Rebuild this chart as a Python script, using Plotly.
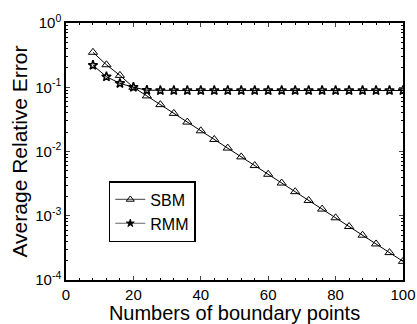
import plotly.graph_objects as go

x_points = [8, 12, 16, 20, 24, 28, 32, 36, 40, 44, 48, 52, 56, 60, 64, 68, 72, 76, 80, 84, 88, 92, 96, 100]
sbm = [0.35, 0.224, 0.153, 0.100, 0.0733, 0.0536, 0.0392, 0.0287, 0.0210, 0.0154, 0.0113, 0.00824,
       0.00604, 0.00442, 0.00323, 0.00237, 0.00173, 0.00127, 0.000929, 0.000680, 0.000498,
       0.000364, 0.000267, 0.000195]
rmm = [0.22, 0.146, 0.115, 0.100, 0.090, 0.089, 0.089, 0.089, 0.089, 0.089, 0.089, 0.089,
       0.089, 0.089, 0.089, 0.089, 0.089, 0.089, 0.089, 0.089, 0.089, 0.089, 0.089, 0.089]

x_ticks = [0, 20, 40, 60, 80, 100]
y_tickvals = [1e-4, 1e-3, 1e-2, 1e-1, 1]
y_ticktext = ["10<sup>-4</sup>", "10<sup>-3</sup>", "10<sup>-2</sup>", "10<sup>-1</sup>", "10<sup>0</sup>"]
y_minor = [m * 10 ** e for e in (-4, -3, -2, -1) for m in range(2, 10)]

fig = go.Figure()
fig.add_trace(go.Scatter(
    x=x_points, y=sbm, name="SBM", mode="lines+markers", showlegend=False,
    line=dict(color="black", width=1),
    marker=dict(symbol="triangle-up-open", size=8, color="black", line=dict(width=1)),
))
fig.add_trace(go.Scatter(
    x=x_points, y=rmm, name="RMM", mode="lines+markers", showlegend=False,
    line=dict(color="black", width=1),
    marker=dict(symbol="star-open", size=7, color="black", line=dict(width=1.5)),
))
# legend entries (grey lines, small markers as in the reference)
fig.add_trace(go.Scatter(
    x=[None], y=[None], name="SBM", mode="lines+markers",
    line=dict(color="#666666", width=1.2),
    marker=dict(symbol="triangle-up-open", size=7, color="black", line=dict(width=1)),
))
fig.add_trace(go.Scatter(
    x=[None], y=[None], name="RMM", mode="lines+markers",
    line=dict(color="#666666", width=1.2),
    marker=dict(symbol="star", size=6, color="black", line=dict(width=0.8, color="black")),
))

font_family = "Liberation Sans, Arial, Helvetica, sans-serif"
fig.update_layout(
    width=417, height=324,
    margin=dict(l=66, r=12, t=15, b=44),
    paper_bgcolor="white", plot_bgcolor="white",
    font=dict(family=font_family, color="black"),
    showlegend=True,
    legend=dict(
        x=0.127, y=0.385, xanchor="left", yanchor="top",
        bordercolor="black", borderwidth=1.5, bgcolor="white",
        font=dict(size=16, family=font_family),
        tracegroupgap=2,
    ),
    xaxis=dict(
        range=[0, 100], tickvals=x_ticks, ticks="inside", ticklen=4,
        showline=True, linecolor="black", linewidth=1.5, mirror="ticks",
        showgrid=False, zeroline=False, automargin=False,
        ticklabeloverflow="allow",
        tickfont=dict(size=15),
        minor=dict(dtick=4, ticks="inside", ticklen=2, tickcolor="black"),
        title=dict(text="Numbers of boundary points", font=dict(size=20)),
    ),
    yaxis=dict(
        type="log", range=[-4, 0], tickvals=y_tickvals, ticktext=y_ticktext,
        ticks="inside", ticklen=4,
        showline=True, linecolor="black", linewidth=1.5, mirror="ticks",
        showgrid=False, zeroline=False, automargin=True,
        ticklabeloverflow="allow",
        tickfont=dict(size=15),
        minor=dict(tickvals=y_minor, ticks="inside", ticklen=2, tickcolor="black"),
        title=dict(text="Average Relative Error", font=dict(size=21), standoff=2),
    ),
)

fig.write_html(
    "out.html",
    config={"displayModeBar": False},
    post_script="document.body.style.margin='0';document.body.style.overflow='hidden';",
)
